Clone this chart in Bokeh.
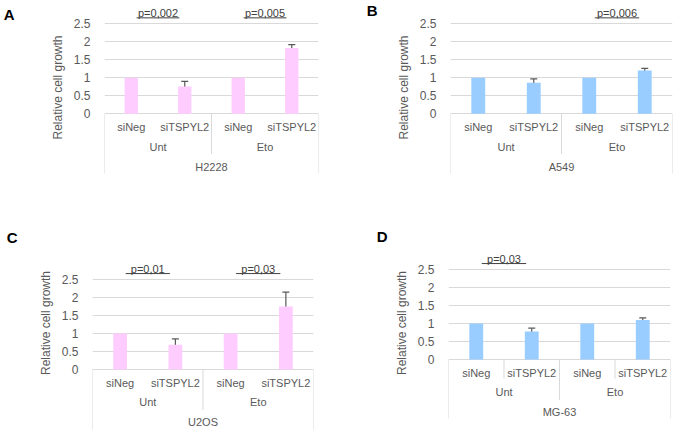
from bokeh.plotting import figure
from bokeh.models import (FactorRange, Range1d, FixedTicker, ColumnDataSource,
                          Whisker, TeeHead, LinearAxis)
from bokeh.layouts import column, row
from bokeh.core.properties import value
from bokeh.embed import file_html
from bokeh.resources import INLINE

# ---------------- data ----------------
treatments = ["Unt", "Eto"]
sirnas = ["siNeg", "siTSPYL2"]

cells_A = "H2228"
vals_A = [1.0, 0.76, 1.0, 1.83]
err_A = [0.0, 0.14, 0.0, 0.09]
p_A = {"Unt": "p=0,002", "Eto": "p=0,005"}

cells_B = "A549"
vals_B = [1.0, 0.86, 1.0, 1.20]
err_B = [0.0, 0.11, 0.0, 0.06]
p_B = {"Eto": "p=0,006"}

cells_C = "U2OS"
vals_C = [1.0, 0.69, 1.0, 1.75]
err_C = [0.0, 0.16, 0.0, 0.40]
p_C = {"Unt": "p=0,01", "Eto": "p=0,03"}

cells_D = "MG-63"
vals_D = [1.0, 0.78, 1.0, 1.10]
err_D = [0.0, 0.09, 0.0, 0.055]
p_D = {"Unt": "p=0,03"}

y_ticks = [0, 0.5, 1, 1.5, 2, 2.5]

PINK = "#FFCCFF"
BLUE = "#99CCFF"
GRID = "#D9D9D9"
TXT = "#595959"
FONT = "Liberation Sans"


def panel(letter, cell, vals, errs, pvals, color, w, h, mbl, mbr, mbb,
          y0, y1, letter_y, letter_standoff, outer_len, inner_seps=False):
    factors = [(t, s) for t in treatments for s in sirnas]
    p = figure(width=w, height=h, output_backend="svg", toolbar_location=None,
               x_range=FactorRange(factors=factors, factor_padding=0,
                                   group_padding=0, range_padding=0),
               y_range=Range1d(y0, y1),
               min_border_left=mbl, min_border_right=mbr,
               min_border_top=0, min_border_bottom=mbb)
    p.outline_line_color = None
    p.background_fill_color = "white"
    p.border_fill_color = "white"
    p.xaxis.visible = False
    p.xgrid.visible = False
    p.ygrid.grid_line_color = GRID
    p.ygrid.grid_line_width = 1

    ya = p.yaxis[0]
    ya.ticker = FixedTicker(ticks=y_ticks)
    ya.bounds = (-0.74, 2.5)
    ya.axis_line_color = None
    ya.major_tick_line_color = None
    ya.minor_tick_line_color = None
    ya.major_tick_out = 0
    ya.major_tick_in = 0
    ya.major_label_standoff = 14
    ya.major_label_text_font = FONT
    ya.major_label_text_font_size = "12px"
    ya.major_label_text_color = TXT
    ya.axis_label = "Relative cell growth"
    ya.axis_label_text_font = FONT
    ya.axis_label_text_font_size = "12px"
    ya.axis_label_text_font_style = "normal"
    ya.axis_label_text_color = TXT
    ya.axis_label_standoff = 6

    # panel letter, as the single tick label of an outer left axis
    la = LinearAxis(ticker=FixedTicker(ticks=[letter_y]),
                    major_label_overrides={letter_y: letter},
                    axis_line_color=None, major_tick_line_color=None,
                    minor_tick_line_color=None, major_tick_out=0, major_tick_in=0,
                    major_label_standoff=letter_standoff,
                    major_label_text_font=FONT, major_label_text_font_size="15px",
                    major_label_text_font_style="bold",
                    major_label_text_color="black")
    p.add_layout(la, "left")

    # table separators (Excel style)
    sx = [("Unt", "siNeg", -0.5), ("Unt", "siTSPYL2", 0.5), ("Eto", "siTSPYL2", 0.5)]
    sy = [outer_len, -1.12, outer_len]
    if inner_seps:
        sx += [("Unt", "siNeg", 0.5), ("Eto", "siNeg", 0.5)]
        sy += [-0.53, -0.53]
    p.segment(x0=sx, y0=[0] * len(sx), x1=sx, y1=sy, line_color=GRID, line_width=1)

    # bars
    src = ColumnDataSource(dict(x=factors, top=vals))
    p.vbar(x="x", top="top", width=0.25, bottom=0, source=src,
           fill_color=color, line_color=None)

    # error bars
    ex = [f for f, e in zip(factors, errs) if e > 0]
    ev = [v for v, e in zip(vals, errs) if e > 0]
    ee = [e for e in errs if e > 0]
    esrc = ColumnDataSource(dict(base=ex, upper=[v + e for v, e in zip(ev, ee)],
                                 lower=[v - e for v, e in zip(ev, ee)]))
    wh = Whisker(base="base", upper="upper", lower="lower", source=esrc,
                 dimension="height", line_color="#595959", line_width=1.2,
                 upper_head=TeeHead(size=7, line_color="#595959", line_width=1.2),
                 lower_head=TeeHead(size=7, line_color="#595959", line_width=1.2))
    p.add_layout(wh)

    # category labels
    p.text(x=factors, y=[-0.38] * 4, text=[f[1] for f in factors],
           text_font=value(FONT), text_font_size="11px", text_color=TXT,
           text_align="center", text_baseline="middle")
    p.text(x=treatments, y=[-0.91] * 2, text=treatments,
           text_font=value(FONT), text_font_size="11px", text_color=TXT,
           text_align="center", text_baseline="middle")
    p.text(x=[("Unt", "siTSPYL2", 0.5)], y=[-1.47], text=[cell],
           text_font=value(FONT), text_font_size="11px", text_color=TXT,
           text_align="center", text_baseline="middle")

    # p-values
    for grp, lab in pvals.items():
        p.text(x=[grp], y=[2.79], text=[lab], text_font=value(FONT),
               text_font_size="11px", text_color="#404040",
               text_align="center", text_baseline="middle")
        p.segment(x0=[(grp, "siNeg", 0.1)], y0=[2.665],
                  x1=[(grp, "siTSPYL2", -0.1)], y1=[2.665],
                  line_color="#404040", line_width=1)
    return p


pA = panel("A", cells_A, vals_A, err_A, p_A, PINK, 340, 215, 97, 22, 41,
           -1.686, 3.147, 2.76, 33, -1.66)
pB = panel("B", cells_B, vals_B, err_B, p_B, BLUE, 333, 215, 110, 1, 41,
           -1.686, 3.147, 2.95, 16, -1.66)
pC = panel("C", cells_C, vals_C, err_C, p_C, PINK, 340, 215, 92, 27, 0,
           -1.694, 4.278, 3.667, 18, -1.72)
pD = panel("D", cells_D, vals_D, err_D, p_D, BLUE, 333, 215, 108, 3, 0,
           -1.972, 4.0, 3.42, 4, -1.64, inner_seps=True)

layout = column(row(pA, pB), row(pC, pD))
open("out.html", "w").write(file_html(layout, INLINE))
